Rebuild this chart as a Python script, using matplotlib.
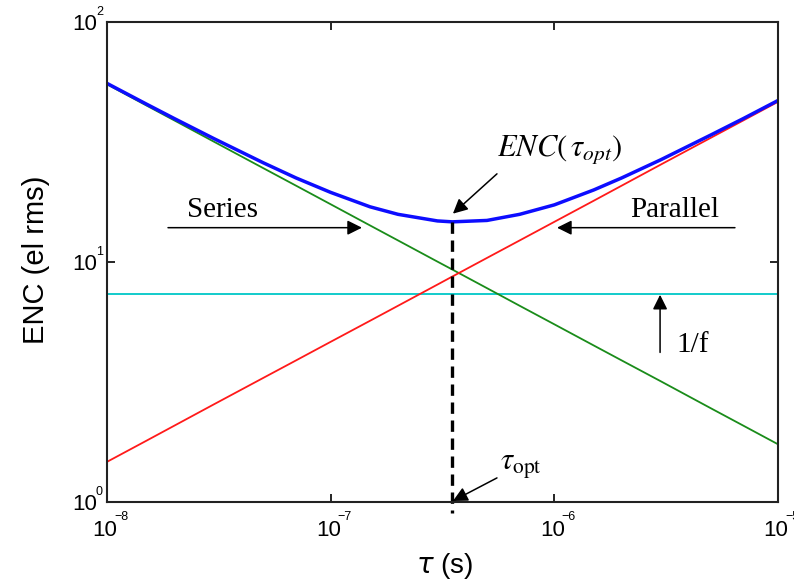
import math
import matplotlib
matplotlib.use("Agg")
import matplotlib.pyplot as plt
import matplotlib.transforms as mtransforms
from matplotlib.ticker import FixedLocator, NullFormatter

# shaping time (s)
tau = [1e-8, 1.5e-8, 2e-8, 3e-8, 5e-8, 7e-8, 1e-7, 1.5e-7, 2e-7, 3e-7, 3.5e-7,
       5e-7, 7e-7, 1e-6, 1.5e-6, 2e-6, 3e-6, 5e-6, 7e-6, 1e-5]
# noise contributions (el rms)
enc_series = [55.0, 44.9, 38.9, 31.75, 24.6, 20.8, 17.4, 14.2, 12.3, 10.04, 9.30,
              7.78, 6.57, 5.50, 4.49, 3.89, 3.18, 2.46, 2.08, 1.74]
enc_parallel = [1.47, 1.80, 2.08, 2.55, 3.29, 3.89, 4.65, 5.69, 6.57, 8.05, 8.70,
                10.4, 12.3, 14.7, 18.0, 20.8, 25.5, 32.9, 38.9, 46.5]
enc_total = [55.5, 45.5, 39.6, 32.7, 25.9, 22.4, 19.5, 16.98, 15.8, 14.83, 14.7,
             14.9, 15.8, 17.3, 19.96, 22.4, 26.7, 33.8, 39.6, 47.1]
tau_flicker = [1e-8, 1e-5]
enc_flicker = [7.36, 7.36]
tau_opt = 3.5e-7
enc_opt = 14.7

x_ticks = [1e-8, 1e-7, 1e-6, 1e-5]
y_ticks = [1, 10, 100]

sans = "Liberation Sans"
serif = "Liberation Serif"

fig = plt.figure(figsize=(7.94, 5.85), dpi=100)
ax = fig.add_axes([107 / 794, 83 / 585, 671 / 794, 480 / 585])
ax.set_xscale("log")
ax.set_yscale("log")

ax.plot(tau_flicker, enc_flicker, color=(0.0, 0.78, 0.78), lw=1.3)
ax.plot(tau, enc_series, color=(0.1, 0.55, 0.1), lw=1.3)
ax.plot(tau, enc_parallel, color=(1.0, 0.1, 0.1), lw=1.3)
ax.plot(tau, enc_total, color=(0.05, 0.05, 1.0), lw=2.5)
ax.plot([tau_opt, tau_opt], [enc_opt, 0.9], color="black", lw=2.4,
        ls=(0, (3.4, 2.0)), clip_on=False)

ax.set_xlim(1e-8, 1e-5)
ax.set_ylim(1, 100)

ax.xaxis.set_major_locator(FixedLocator(x_ticks))
ax.yaxis.set_major_locator(FixedLocator(y_ticks))
ax.minorticks_off()
ax.xaxis.set_major_formatter(NullFormatter())
ax.yaxis.set_major_formatter(NullFormatter())
ax.tick_params(which="both", direction="in", top=True, right=True,
               length=6, width=1.2, colors="black")
for s in ax.spines.values():
    s.set_linewidth(1.5)
    s.set_color("#222222")


def exponent_text(e):
    return ("\u2212%d" % abs(e)) if e < 0 else str(e)


# decade tick labels: large "10" with a small raised exponent
xt = ax.get_xaxis_transform()
yt = ax.get_yaxis_transform()
for v in x_ticks:
    e = int(round(math.log10(v)))
    base = mtransforms.offset_copy(xt, fig=fig, x=-2, y=-28, units="dots")
    sup = mtransforms.offset_copy(xt, fig=fig, x=7, y=-15, units="dots")
    ax.text(v, 0, "10", transform=base, ha="center", va="center",
            fontsize=16, family=sans, clip_on=False)
    ax.text(v, 0, exponent_text(e), transform=sup,
            ha="left", va="center", fontsize=9, family=sans, clip_on=False)
for v in y_ticks:
    e = int(round(math.log10(v)))
    base = mtransforms.offset_copy(yt, fig=fig, x=-10, y=-3, units="dots")
    sup = mtransforms.offset_copy(yt, fig=fig, x=-11, y=10, units="dots")
    ax.text(0, v, "10", transform=base, ha="right", va="center",
            fontsize=16, family=sans, clip_on=False)
    ax.text(0, v, exponent_text(e), transform=sup, ha="left", va="center",
            fontsize=9, family=sans, clip_on=False)

fig.text(36 / 794, 1 - 260 / 585, "ENC (el rms)", rotation=90, ha="center",
         va="center", fontsize=21, family=sans)
fig.text(445 / 794, 1 - 566 / 585, r"$\tau$ (s)", ha="center", va="center",
         fontsize=20, family=sans)

arrow = dict(arrowstyle="-|>", color="black", lw=1.1, mutation_scale=22,
             shrinkA=0, shrinkB=0)

ax.text(3.27e-8, 16.4, "Series", fontsize=21, family=serif, ha="center", va="center")
ax.annotate("", xy=(1.38e-7, 13.9), xytext=(1.874e-8, 13.9), arrowprops=arrow)

ax.text(3.46e-6, 16.4, "Parallel", fontsize=21, family=serif, ha="center", va="center")
ax.annotate("", xy=(1.028e-6, 13.9), xytext=(6.42e-6, 13.9), arrowprops=arrow)

ax.text(1.06e-6, 29.3, r"$ENC(\,\tau_{opt})$", fontsize=22, ha="center", va="center",
        math_fontfamily="stix")
ax.annotate("", xy=(3.52e-7, 15.9), xytext=(5.54e-7, 23.3), arrowprops=arrow)

ax.text(4.17e-6, 4.5, "1/f", fontsize=21, family=serif, ha="center", va="center")
ax.annotate("", xy=(2.97e-6, 7.3), xytext=(2.97e-6, 4.2), arrowprops=arrow)

ax.text(7.1e-7, 1.40, r"$\tau_{\mathrm{opt}}$", fontsize=22, ha="center", va="center",
        math_fontfamily="stix")
ax.annotate("", xy=(3.52e-7, 1.01), xytext=(5.54e-7, 1.26), arrowprops=arrow,
            annotation_clip=False)

fig.savefig("out.png", dpi=100)
